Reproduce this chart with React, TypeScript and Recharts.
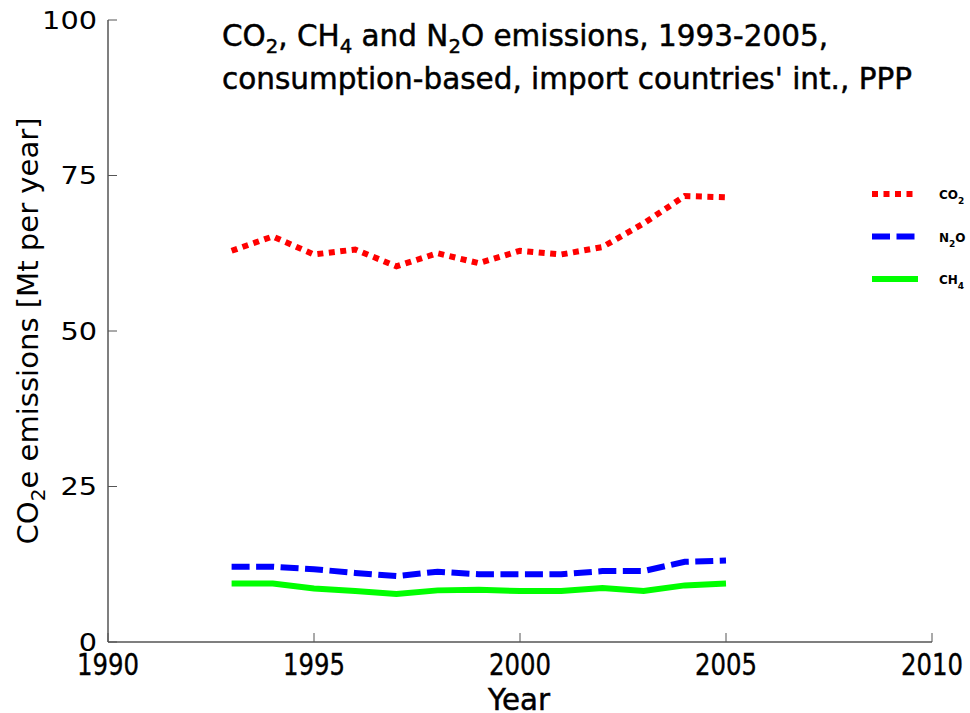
import React from 'react';
import { LineChart, Line, XAxis, YAxis, Legend } from 'recharts';

const years = [1993, 1994, 1995, 1996, 1997, 1998, 1999, 2000, 2001, 2002, 2003, 2004, 2005];
const co2 = [62.9, 65.2, 62.3, 63.1, 60.4, 62.5, 60.9, 62.9, 62.3, 63.5, 67.3, 71.7, 71.5];
const n2o = [12.1, 12.1, 11.7, 11.1, 10.6, 11.3, 10.9, 10.9, 10.9, 11.4, 11.4, 12.9, 13.1];
const ch4 = [9.4, 9.4, 8.6, 8.2, 7.7, 8.3, 8.4, 8.2, 8.2, 8.7, 8.2, 9.1, 9.4];
const xTicks = [1990, 1995, 2000, 2005, 2010];
const yTicks = [0, 25, 50, 75, 100];
const seriesOrder = ['CO2', 'N2O', 'CH4'];

const data = years.map((y, i) => ({ year: y, CO2: co2[i], N2O: n2o[i], CH4: ch4[i] }));

const W = 970;
const H = 713;
const FONT = '"DejaVu Sans", Verdana, sans-serif';
const AXIS = '#555';

const seriesStyle: Record<string, { color: string; dash?: string; width: number }> = {
  CO2: { color: '#ff0000', dash: '6 5.5', width: 6 },
  N2O: { color: '#0000ff', dash: '18 6.5', width: 6 },
  CH4: { color: '#00ff00', width: 6 },
};

const legendLabels: Record<string, [string, string, string]> = {
  CO2: ['CO', '2', ''],
  N2O: ['N', '2', 'O'],
  CH4: ['CH', '4', ''],
};

const XTick = (props: any) => {
  const { x, y, payload } = props;
  const s = String(payload.value);
  return (
    <text x={x} y={y + 23} textAnchor="middle" fontFamily={FONT} fontSize={31} fill="#000"
      stroke="#000" strokeWidth={0.4}
      textLength={15.5 * s.length} lengthAdjust="spacingAndGlyphs">{s}</text>
  );
};

const YTick = (props: any) => {
  const { x, y, payload } = props;
  const s = String(payload.value);
  return (
    <text x={x} y={y + 8.5} textAnchor="end" fontFamily={FONT} fontSize={24} fill="#000"
      textLength={18.3 * s.length} lengthAdjust="spacingAndGlyphs">{s}</text>
  );
};

const LegendContent = (props: any) => {
  const payload = [...(props.payload || [])].sort(
    (a: any, b: any) => seriesOrder.indexOf(String(a.dataKey)) - seriesOrder.indexOf(String(b.dataKey))
  );
  return (
    <svg width={100} height={110} style={{ display: 'block', overflow: 'visible' }}>
      {payload.map((e: any, i: number) => {
        const key = String(e.dataKey ?? e.value);
        const st = seriesStyle[key];
        const lab = legendLabels[key];
        const cy = 12 + i * 42.5;
        return (
          <g key={key}>
            <line x1={4} x2={50} y1={cy} y2={cy} stroke={st.color} strokeWidth={st.width}
              strokeDasharray={st.dash} />
            <text x={71} y={cy + 5} fontFamily={FONT} fontSize={12} fontWeight="bold" fill="#000">
              {lab[0]}
              <tspan dy={5} fontSize={9}>{lab[1]}</tspan>
              {lab[2] ? <tspan dy={-5}>{lab[2]}</tspan> : null}
            </text>
          </g>
        );
      })}
    </svg>
  );
};

export default function App() {
  return (
    <div style={{ position: 'absolute', left: 0, top: 0, width: W, height: H, overflow: 'hidden' }}>
      <LineChart width={W} height={H} data={data} margin={{ top: 20, right: 38, left: 48, bottom: 26 }}>
        <XAxis dataKey="year" type="number" domain={[1990, 2010]} ticks={xTicks} height={45}
          axisLine={{ stroke: AXIS, strokeWidth: 1.5 }} tickLine={{ stroke: AXIS, strokeWidth: 1 }}
          tickSize={-9} tickMargin={19} tick={<XTick />} interval={0} />
        <YAxis type="number" domain={[0, 100]} ticks={yTicks} width={60}
          axisLine={{ stroke: AXIS, strokeWidth: 1.5 }} tickLine={{ stroke: AXIS, strokeWidth: 1 }}
          tickSize={-9} tickMargin={20} tick={<YTick />} interval={0} />
        <Legend layout="vertical" align="center" verticalAlign="middle" content={<LegendContent />}
          wrapperStyle={{ position: 'absolute', left: 868, top: 182, width: 100, height: 110 }} />
        {seriesOrder.map((k) => (
          <Line key={k} dataKey={k} name={k} type="linear" stroke={seriesStyle[k].color}
            strokeWidth={seriesStyle[k].width} strokeDasharray={seriesStyle[k].dash}
            dot={false} activeDot={false} isAnimationActive={false} />
        ))}
      </LineChart>
      <svg width={W} height={H} style={{ position: 'absolute', left: 0, top: 0, pointerEvents: 'none' }}>
        <text x={222} y={46} fontFamily={FONT} fontSize={30} fill="#000" stroke="#000" strokeWidth={0.5}
          textLength={606} lengthAdjust="spacingAndGlyphs">
          CO<tspan dy={7} fontSize={20}>2</tspan><tspan dy={-7}>, CH</tspan><tspan dy={7} fontSize={20}>4</tspan>
          <tspan dy={-7}> and N</tspan><tspan dy={7} fontSize={20}>2</tspan><tspan dy={-7}>O emissions, 1993-2005,</tspan>
        </text>
        <text x={222} y={89} fontFamily={FONT} fontSize={30} fill="#000" stroke="#000" strokeWidth={0.5}
          textLength={690} lengthAdjust="spacingAndGlyphs">
          consumption-based, import countries' int., PPP
        </text>
        <text x={38} y={331} transform="rotate(-90, 38, 331)" textAnchor="middle" fontFamily={FONT}
          fontSize={29} fill="#000" textLength={427} lengthAdjust="spacingAndGlyphs">
          CO<tspan dy={7} fontSize={20}>2</tspan><tspan dy={-7}>e emissions [Mt per year]</tspan>
        </text>
        <text x={519} y={710} textAnchor="middle" fontFamily={FONT} fontSize={31} fill="#000"
          stroke="#000" strokeWidth={0.5}
          textLength={62} lengthAdjust="spacingAndGlyphs">Year</text>
      </svg>
    </div>
  );
}
